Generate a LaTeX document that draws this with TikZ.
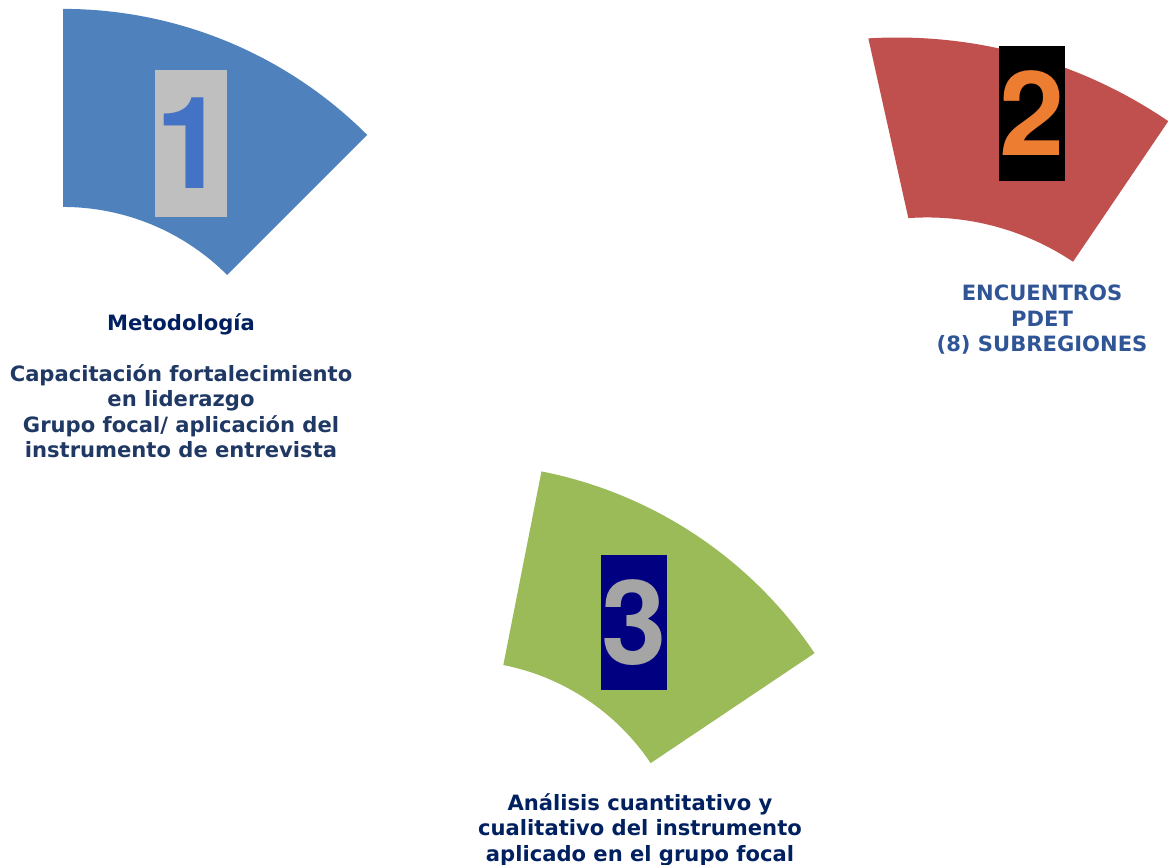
\documentclass[tikz,border=0pt]{standalone}
\usepackage{fontspec}
\setmainfont{DejaVu Sans}
\newfontfamily\digitfont{TeX Gyre Heros}
\usetikzlibrary{calc}
\definecolor{segblue}{HTML}{4F81BD}
\definecolor{segred}{HTML}{C0504D}
\definecolor{seggreen}{HTML}{9BBB59}
\definecolor{boxgrey}{HTML}{BFBFBF}
\definecolor{digitblue}{HTML}{4472C4}
\definecolor{digitorange}{HTML}{ED7D31}
\definecolor{digitgrey}{HTML}{A5A5A5}
\definecolor{boxnavy}{HTML}{000080}
\definecolor{textnavy}{HTML}{1F3864}
\definecolor{textdark}{HTML}{002060}
\definecolor{textblue}{HTML}{2F5597}
\tikzset{
  numbox/.style={inner sep=0pt, outer sep=0pt},
  label/.style={inner sep=0pt, outer sep=0pt, align=center, anchor=north,
    font=\bfseries\fontsize{15}{18.1}\selectfont}
}
\begin{document}
\begin{tikzpicture}[x=0.025cm,y=0.025cm]
\useasboundingbox (0,0) rectangle (1168,-864);
% segment 1 (blue)
\coordinate (c1) at (63,-439);
\fill[segblue] (c1) ++(90:10.75cm) arc[start angle=90,end angle=45,radius=10.75cm]
  -- ($(c1)+(45:5.8cm)$) arc[start angle=45,end angle=90,radius=5.8cm] -- cycle;
% segment 2 (red)
\coordinate (c2o) at (897.1,-518.7);
\coordinate (c2i) at (927.1,-480.1);
\fill[segred] (c2o) ++(93.43:12.0275cm) arc[start angle=93.43,end angle=55.7,radius=12.0275cm]
  -- ($(c2i)+(56.25:6.565cm)$) arc[start angle=56.25,end angle=94.1,radius=6.565cm] -- cycle;
% segment 3 (green)
\coordinate (c3) at (458.6,-891.9);
\fill[seggreen] (c3) ++(78.85:10.7125cm) arc[start angle=78.85,end angle=33.85,radius=10.7125cm]
  -- ($(c3)+(33.85:5.78cm)$) arc[start angle=33.85,end angle=78.85,radius=5.78cm] -- cycle;
% number boxes
\node[numbox, fill=boxgrey, text=digitblue, minimum width=72*0.025cm, minimum height=146.7*0.025cm,
  font=\digitfont\bfseries\fontsize{91}{91}\selectfont] (n1) at (191,-143.3) {1};
\node[numbox, fill=black, text=digitorange, minimum width=65.7*0.025cm, minimum height=134.7*0.025cm,
  font=\digitfont\bfseries\fontsize{83.4}{83.4}\selectfont] (n2) at (1031.8,-113.3) {2};
\node[numbox, fill=boxnavy, text=digitgrey, minimum width=66*0.025cm, minimum height=135*0.025cm,
  font=\digitfont\bfseries\fontsize{83.4}{83.4}\selectfont] (n3) at (634,-622.5) {3};
% labels
\node[label, text=textnavy] (t1) at (181,-313.7)
  {\textcolor{textdark}{Metodología}\\[18.1pt]
   Capacitación fortalecimiento\\ en liderazgo\\ Grupo focal/ aplicación del\\ instrumento de entrevista};
\node[label, text=textblue] (t2) at (1042,-285) {ENCUENTROS\\ PDET\\ (8) SUBREGIONES};
\node[label, text=textdark] (t3) at (640,-793.5) {Análisis cuantitativo y\\ cualitativo del instrumento\\ aplicado en el grupo focal};
\end{tikzpicture}
\end{document}
